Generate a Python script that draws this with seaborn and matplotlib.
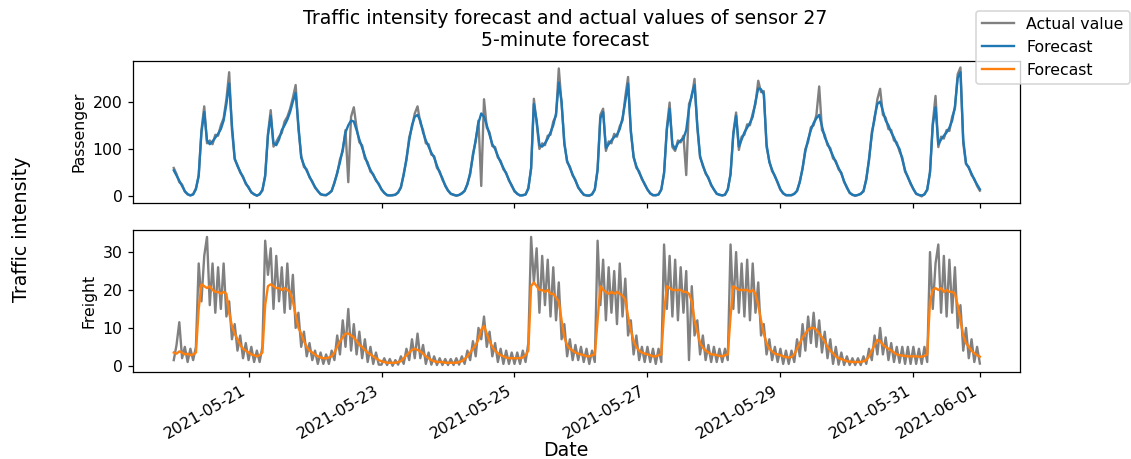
import numpy as np
import pandas as pd
import matplotlib
matplotlib.use("Agg")
import matplotlib.pyplot as plt
import seaborn as sns

# hourly values, 2021-05-19 21:00 -> 2021-06-01 00:00
start_time = "2021-05-19 21:00"

passenger_actual = [
    60, 47, 30,
    25, 10, 4, 2, 5, 17, 42, 140, 190, 112, 118, 110, 130, 128, 150, 165, 205, 262, 140, 78, 66, 50, 42, 26,
    20, 8, 5, 1, 5, 12, 45, 132, 182, 105, 115, 126, 134, 158, 168, 185, 208, 235, 142, 86, 62, 57, 40, 32,
    18, 12, 4, 3, 2, 7, 11, 30, 48, 78, 95, 140, 30, 168, 188, 145, 114, 108, 80, 72, 52, 47, 33, 27,
    14, 8, 2, 2, 3, 3, 9, 18, 48, 76, 125, 146, 175, 190, 155, 140, 112, 110, 88, 85, 60, 53, 35, 24,
    13, 5, 4, 1, 3, 7, 11, 27, 46, 90, 116, 160, 22, 205, 145, 135, 106, 104, 82, 75, 57, 50, 33, 24,
    10, 6, 2, 3, 4, 18, 58, 206, 155, 100, 112, 108, 128, 130, 158, 170, 270, 195, 115, 72, 63, 44, 35, 18,
    12, 3, 2, 1, 5, 14, 58, 172, 185, 96, 116, 112, 132, 126, 148, 160, 210, 252, 135, 85, 60, 53, 36, 27,
    14, 7, 2, 3, 4, 15, 48, 145, 198, 104, 96, 118, 114, 128, 45, 195, 210, 248, 145, 82, 67, 48, 40, 23,
    15, 5, 4, 2, 3, 15, 46, 135, 177, 98, 126, 130, 152, 150, 175, 195, 244, 220, 222, 104, 75, 53, 44, 28,
    14, 7, 2, 3, 2, 6, 11, 32, 58, 100, 115, 146, 150, 172, 232, 140, 130, 108, 102, 80, 75, 57, 50, 30,
    20, 7, 4, 1, 3, 6, 10, 38, 76, 136, 162, 205, 227, 172, 166, 142, 140, 118, 114, 95, 82, 52, 42, 26,
    16, 5, 3, 0, 5, 13, 52, 155, 212, 104, 126, 122, 140, 138, 168, 185, 258, 272, 112, 68, 62, 45, 37, 22,
    12,
]

passenger_forecast = [
    55, 44, 33,
    22, 11, 5, 2, 4, 15, 45, 135, 178, 118, 110, 116, 124, 132, 142, 160, 195, 238, 150, 80, 64, 52, 40, 28,
    18, 9, 4, 2, 4, 14, 42, 128, 170, 112, 108, 120, 140, 150, 162, 178, 200, 218, 150, 82, 66, 54, 42, 30,
    20, 11, 5, 3, 3, 6, 12, 28, 50, 72, 100, 135, 150, 160, 158, 140, 120, 103, 85, 68, 56, 45, 35, 25,
    15, 7, 3, 2, 2, 4, 8, 20, 45, 80, 118, 150, 168, 172, 160, 135, 118, 105, 92, 82, 65, 50, 38, 22,
    12, 6, 3, 2, 3, 6, 12, 25, 50, 85, 120, 155, 175, 168, 150, 130, 110, 100, 85, 72, 60, 48, 35, 22,
    12, 5, 2, 2, 4, 16, 60, 195, 160, 108, 105, 112, 122, 135, 150, 175, 240, 200, 110, 75, 60, 46, 33, 20,
    10, 4, 2, 2, 4, 15, 55, 165, 178, 102, 110, 118, 125, 130, 142, 165, 200, 238, 140, 82, 64, 50, 38, 25,
    15, 6, 3, 2, 4, 14, 50, 140, 185, 110, 100, 112, 118, 122, 140, 185, 215, 235, 150, 85, 64, 50, 38, 25,
    14, 6, 3, 2, 4, 14, 48, 130, 170, 105, 120, 135, 145, 155, 168, 200, 228, 226, 215, 110, 72, 56, 42, 30,
    15, 6, 3, 2, 3, 5, 12, 30, 60, 95, 120, 140, 155, 165, 172, 148, 125, 112, 98, 85, 72, 60, 48, 32,
    18, 8, 3, 2, 3, 5, 12, 35, 80, 130, 168, 195, 200, 180, 160, 150, 135, 124, 110, 100, 78, 55, 40, 28,
    15, 6, 3, 2, 4, 15, 50, 150, 188, 110, 120, 128, 135, 145, 160, 190, 250, 262, 120, 70, 60, 48, 35, 25,
    15,
]

freight_actual = [
    1.5, 5.5, 11.5,
    2, 5, 1, 4.5, 1.5, 5, 27, 17, 29, 34, 16, 27, 14, 26, 15, 27, 13, 17, 7, 11, 4, 8, 2, 6,
    1.5, 5, 1, 4, 1, 5, 33, 24, 31, 15, 29, 17, 26, 14, 27, 15, 24, 10, 14, 5, 9, 2.5, 6, 1.5,
    4, 0.5, 3.5, 0.5, 3, 0.5, 4, 1.5, 8, 3, 12, 5, 15, 4, 11, 3, 9, 2, 7, 1, 5, 0.5, 3.5, 0.3,
    0.3, 2, 0.2, 1.8, 0, 1.5, 0.3, 2.5, 0.5, 4.5, 1.5, 7, 2, 8.5, 2, 5.5, 0.5, 3.5, 0.3, 2.5, 0.2, 2, 0.2, 1.8,
    0.2, 1.8, 0.2, 2, 0.3, 2.5, 0.5, 4, 1.5, 6.5, 2.5, 10, 7, 13, 5, 9, 2.5, 6, 1, 4.5, 0.5, 4, 0.5, 3.5,
    0.5, 3.5, 0.5, 4, 1, 6, 34, 22, 31, 14, 29, 16, 28, 13, 26, 12, 22, 7, 11, 2.5, 7, 1.5, 5.5, 1.5,
    5, 1, 4.5, 0.5, 4, 1, 33, 16, 28, 12, 26, 14, 25, 11, 27, 13, 23, 8, 12, 3, 8, 1.5, 5, 1,
    5, 1, 4.5, 0.5, 4.5, 1, 32, 15, 29, 13, 28, 12, 26, 14, 25, 1.5, 21, 8, 12, 3, 8, 1.5, 5.5, 1,
    5, 1, 4.5, 1, 4.5, 1.5, 32, 15, 30, 14, 27, 13, 28, 12, 27, 14, 22, 8, 11, 3, 7, 1.5, 5, 1,
    4.5, 0.5, 4, 0.5, 4, 1, 7, 2.5, 11, 4, 13, 6, 14, 5, 12, 3.5, 9, 2, 7, 0.5, 5, 0.3, 3.5, 0.2,
    2.5, 0.2, 2, 0.2, 2, 0.2, 2.5, 0.5, 4.5, 1.5, 8, 3, 10, 3, 7.5, 1.5, 6, 1, 5, 0.8, 5, 0.5, 5, 0.5,
    5, 0.5, 4.5, 0.5, 5, 1, 30, 15, 27, 32, 14, 29, 13, 28, 14, 26, 10, 16, 4, 10, 2, 7, 1, 5,
    0.6,
]

freight_forecast = [
    3.5, 3.2, 3.8,
    3.5, 3.0, 3.2, 2.8, 3.0, 3.5, 15, 21.5, 21, 20.5, 21, 20, 19.5, 19.5, 19, 19.5, 19, 14, 10.5, 8.5, 7, 5.5, 4.5, 4,
    3.5, 3, 2.8, 2.5, 2.8, 3.5, 16, 21, 21.5, 21, 20.5, 20.5, 20, 20.5, 20, 19.5, 17, 13.5, 10, 8.5, 6.5, 5, 4, 3.5,
    3, 2.5, 2.2, 2, 2, 2.2, 2.5, 3.5, 5, 6.5, 7.5, 8.5, 8.5, 8, 7.5, 6.5, 5.5, 5, 4.2, 3.5, 3, 2.5, 2, 1.5,
    1.2, 1, 0.8, 0.8, 0.8, 0.8, 1, 1.2, 2, 2.8, 3.5, 4.2, 4.5, 4.2, 3.8, 3.2, 2.5, 2, 1.5, 1.2, 1, 1, 1, 0.8,
    0.8, 0.8, 0.8, 0.8, 1, 1.2, 1.8, 2.5, 3.5, 4.5, 5.5, 7, 9.5, 10.5, 8.5, 6.5, 5, 4, 3.3, 2.8, 2.5, 2.2, 2, 2,
    2, 2, 2, 2.2, 2.8, 4, 21, 22, 21, 20, 20, 19.5, 20, 19, 19, 18, 17, 12, 7.5, 5.5, 4.5, 4, 3.5, 3.2,
    3, 2.8, 2.5, 2.5, 2.8, 3, 12, 21, 20, 19.5, 19, 19.5, 19, 19.5, 19, 18.5, 17.5, 13, 9.5, 6.5, 5, 4, 3.5, 3.2,
    3, 2.8, 2.5, 2.5, 2.8, 3, 14, 21, 20.5, 20, 20, 20, 20, 19.5, 19.5, 19, 17, 12, 9, 6, 4.8, 4, 3.5, 3,
    3, 2.8, 2.6, 2.5, 2.8, 3, 13, 21, 20.5, 20, 20, 20, 20, 19.5, 20, 19, 16, 12, 8.5, 6, 4.5, 3.8, 3.2, 3,
    2.8, 2.5, 2.3, 2.2, 2.3, 3, 4.5, 6, 7.5, 8.5, 9.5, 10, 10, 9.5, 8.5, 7.5, 6.5, 5, 4, 3.3, 2.5, 2, 1.8, 1.5,
    1.2, 1.1, 1, 1, 1, 1, 1.2, 1.5, 2.5, 4, 5.5, 6.8, 6.5, 5.5, 5, 4.5, 4, 3.5, 3, 2.8, 2.7, 2.6, 2.5, 2.5,
    2.5, 2.5, 2.4, 2.4, 2.6, 3, 17, 20, 20.5, 20, 20.5, 19.5, 20, 19.5, 19.5, 19, 16, 12, 8, 6, 5, 4, 3.3, 2.8,
    2.4,
]

times = pd.date_range(start_time, periods=len(passenger_forecast), freq="h")
df = pd.DataFrame({
    "Date": times,
    "passenger_actual": passenger_actual,
    "passenger_forecast": passenger_forecast,
    "freight_actual": freight_actual,
    "freight_forecast": freight_forecast,
})

# 原图的文字比默认略大，按 dpi 113 渲染
DPI = 113
fig, (ax1, ax2) = plt.subplots(2, 1, sharex=True, figsize=(1131 / DPI, 459 / DPI), dpi=DPI)

# 上图：客运
sns.lineplot(data=df, x="Date", y="passenger_actual", ax=ax1, color="grey", label="Actual value")
sns.lineplot(data=df, x="Date", y="passenger_forecast", ax=ax1, color="tab:blue", label="Forecast")
ax1.set_ylabel("Passenger")
ax1.set_xlabel("")

# 下图：货运
sns.lineplot(data=df, x="Date", y="freight_actual", ax=ax2, color="grey", legend=False)
sns.lineplot(data=df, x="Date", y="freight_forecast", ax=ax2, color="tab:orange", label="Forecast")
ax2.set_ylabel("Freight")
ax2.set_xlabel("")

h1, l1 = ax1.get_legend_handles_labels()
h2, l2 = ax2.get_legend_handles_labels()
ax1.get_legend().remove()
ax2.get_legend().remove()
fig.legend(h1 + h2, l1 + l2, loc="upper right", bbox_to_anchor=(0.9991, 0.977), borderaxespad=0)

fig.suptitle("Traffic intensity forecast and actual values of sensor 27\n5-minute forecast", y=0.98)
fig.supylabel("Traffic intensity", x=0.011)
fig.supxlabel("Date", y=0.006, va="baseline")

fig.autofmt_xdate()
fig.subplots_adjust(left=0.118, right=0.902, top=0.867, bottom=0.189, hspace=0.195)

fig.savefig("out.png", dpi=DPI)
